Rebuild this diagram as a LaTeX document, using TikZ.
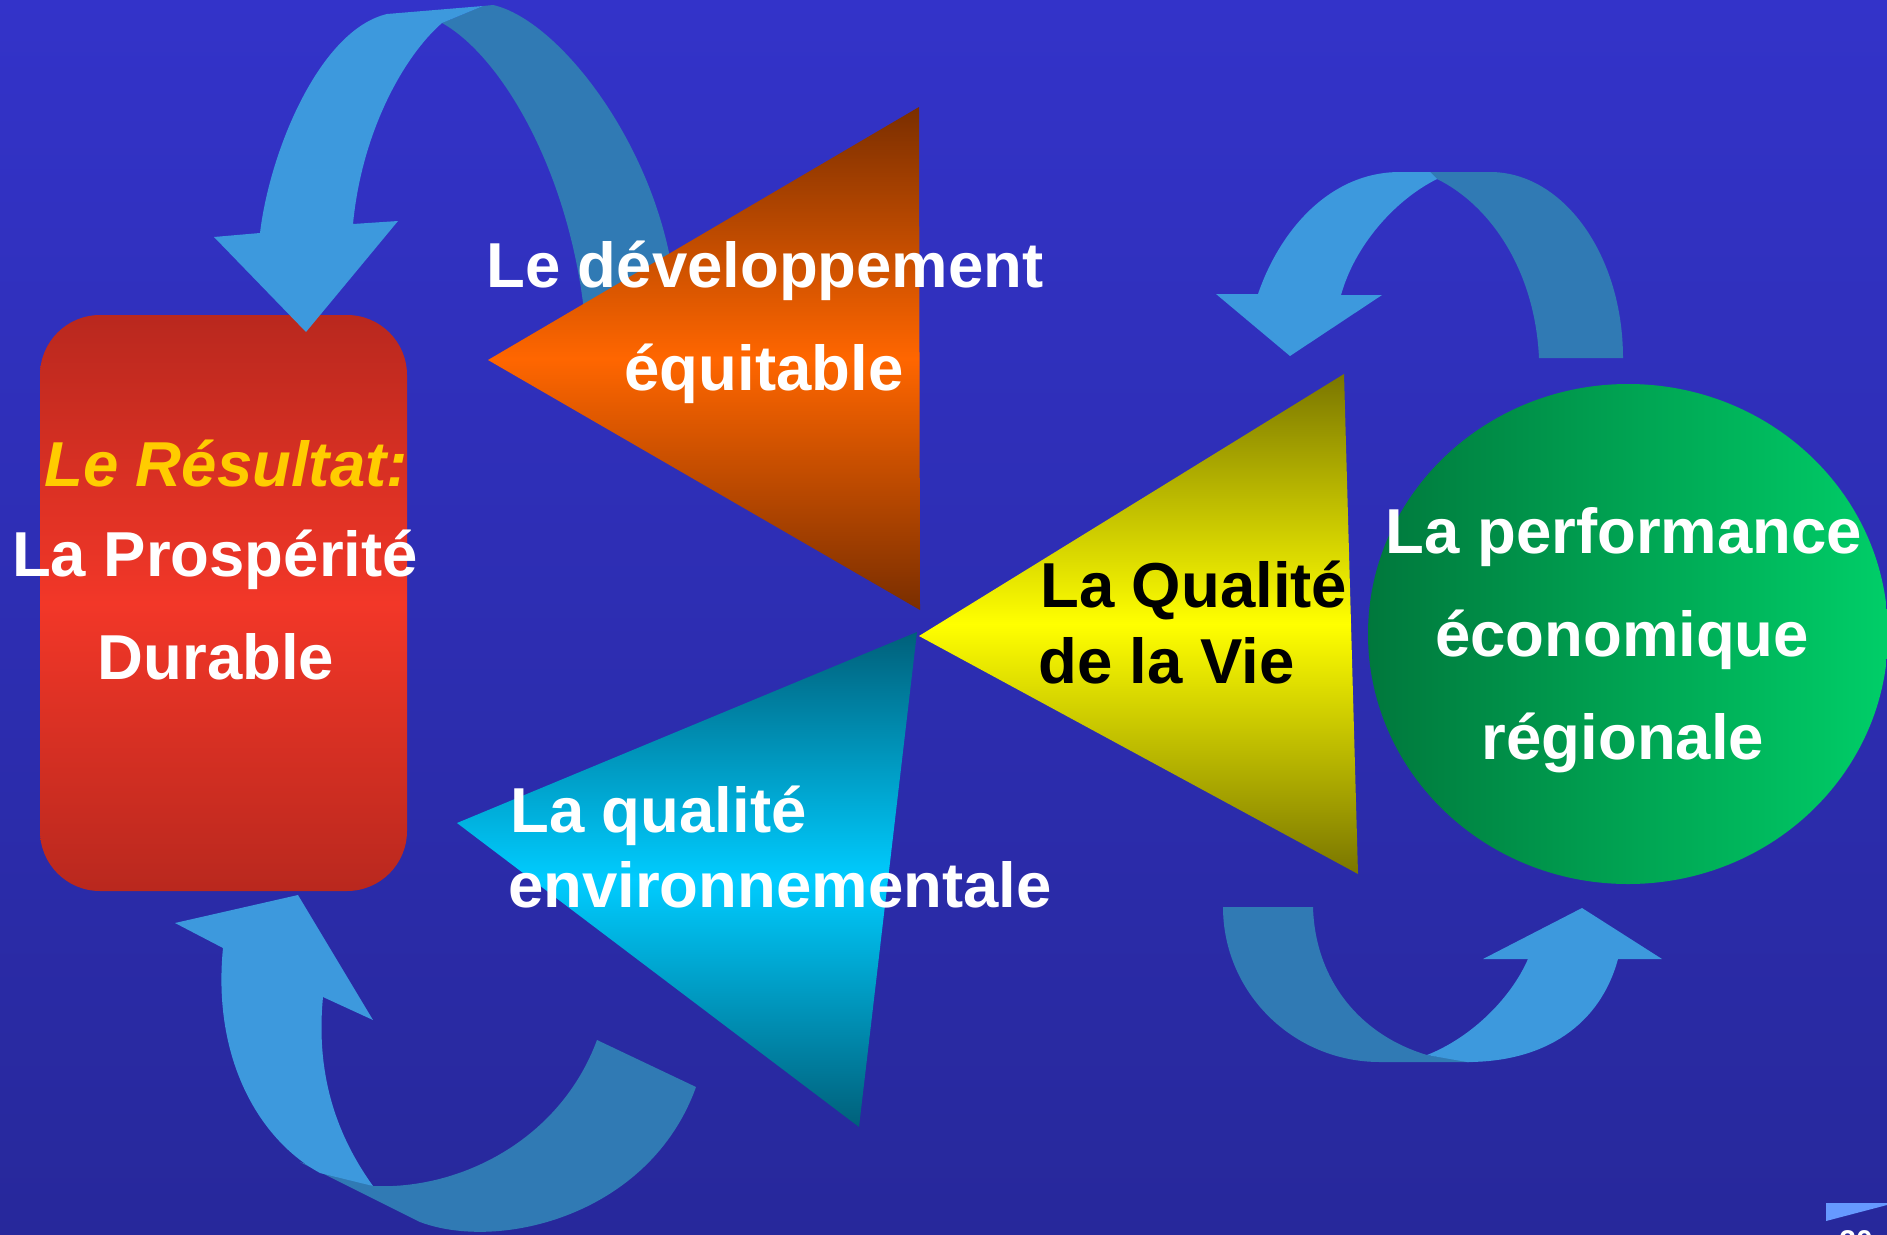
\documentclass[tikz,border=0pt]{standalone}
\usepackage{fontspec}
\setmainfont{Liberation Sans}
\definecolor{bgtop}{RGB}{51,51,201}
\definecolor{bgbot}{RGB}{39,40,155}
\definecolor{arrlightc}{RGB}{61,153,221}
\definecolor{arrdarkc}{RGB}{48,122,180}
\definecolor{redend}{RGB}{185,40,30}
\definecolor{redmid}{RGB}{242,55,40}
\definecolor{orend}{RGB}{122,46,0}
\definecolor{ormid}{RGB}{255,102,0}
\definecolor{cyend}{RGB}{0,96,122}
\definecolor{cymid}{RGB}{0,204,255}
\definecolor{yeend}{RGB}{122,118,0}
\definecolor{yemid}{RGB}{255,255,0}
\definecolor{grleft}{RGB}{0,120,60}
\definecolor{grright}{RGB}{0,206,104}
\definecolor{resyellow}{RGB}{255,204,0}
\definecolor{cornerblue}{RGB}{102,153,255}
\begin{document}
\begin{tikzpicture}[x=1pt,y=-1pt,
  lbl/.style={font=\bfseries\fontsize{63.5}{76}\selectfont, text=white, inner sep=0pt},
  arrlight/.style={fill=arrlightc},
  arrdark/.style={fill=arrdarkc},
  tri/.style={draw=none}]
\useasboundingbox (0,0) rectangle (1887,1234);
% background
\shade[top color=bgtop, bottom color=bgbot] (0,0) rectangle (1887,1234);

% result box
\shade[top color=redend, bottom color=redend, middle color=redmid, rounded corners=60pt]
  (40,315) rectangle (407,891);

% ---- arrows ----
% top-left
\fill[arrdark] (483,6) -- (493,5) .. controls (560,20) and (660,150) .. (675,290) -- (682,335)
  -- (588,335) -- (585,320) .. controls (570,170) and (500,55) .. (442,23) -- cycle;
\fill[arrlight] (260,233) .. controls (270,150) and (320,30) .. (387,14)
  -- (483,6) -- (442,23)
  .. controls (405,55) and (362,130) .. (353,224)
  -- (398,221) -- (306,332) -- (214,237) -- cycle;
% top-right
\fill[arrdark] (1420,172) -- (1490,172) .. controls (1563.5,172) and (1623,255.3) .. (1623,358)
  -- (1539,358) .. controls (1535,270) and (1490,205) .. (1437,179) -- cycle;
\fill[arrlight] (1437,179) -- (1430,172) -- (1400,172)
  .. controls (1330,172) and (1280,230) .. (1258,294)
  -- (1216,294) -- (1290,356) -- (1382,295) -- (1341,295)
  .. controls (1355,245) and (1395,200) .. (1437,179) -- cycle;
% bottom-right
\fill[arrdark] (1223,907) .. controls (1223,992.6) and (1293.3,1062) .. (1380,1062)
  -- (1473,1062) -- (1427,1055)
  .. controls (1360,1035) and (1315,980) .. (1313,907) -- cycle;
\fill[arrlight] (1427,1055) .. controls (1470,1038) and (1510,1000) .. (1528,959)
  -- (1483,959) -- (1582,908) -- (1662,959) -- (1618,959)
  .. controls (1600,1025) and (1545,1062) .. (1467,1062) -- cycle;
% bottom-left
\fill[arrdark] (300,1162) -- (420,1222)
  .. controls (500,1252) and (650,1215) .. (696,1087)
  -- (597,1040)
  .. controls (560,1140) and (460,1190) .. (373,1186) -- cycle;
\fill[arrlight] (223,948) .. controls (212,1060) and (260,1140) .. (320,1173)
  -- (373,1186)
  .. controls (340,1140) and (315,1080) .. (323,997)
  -- (373,1020) -- (298,895) -- (175,923) -- cycle;

% ---- triangles ----
\shade[tri, top color=orend, bottom color=orend, middle color=ormid] (488,360) -- (919,107) -- (920,610) -- cycle;
\shade[tri, top color=cyend, bottom color=cyend, middle color=cymid] (457,823) -- (917,632) -- (859,1127) -- cycle;
\shade[tri, top color=yeend, bottom color=yeend, middle color=yemid] (919,636) -- (1344,374) -- (1358,874) -- cycle;

% ---- green ellipse ----
\shade[left color=grleft, right color=grright] (1628,634) ellipse [x radius=260pt, y radius=250pt];

% corner mark
\fill[cornerblue] (1826,1203) -- (1887,1203) -- (1887,1205) -- (1826,1221) -- cycle;

% ---- texts ----
\node[lbl, text=resyellow, font=\bfseries\itshape\fontsize{63.5}{76}\selectfont, anchor=base] (res1) at (226,486) {Le Résultat:};
\node[lbl, anchor=base] (res2) at (215,576) {La Prospérité};
\node[lbl, anchor=base] (res3) at (216,679) {Durable};

\node[lbl, anchor=base west] (dev1) at (486,287) {Le développement};
\node[lbl, anchor=base] (dev2) at (764,390) {équitable};

\node[lbl, anchor=base west] (env1) at (510,832) {La qualité};
\node[lbl, anchor=base west] (env2) at (508,907) {environnementale};

\node[lbl, text=black, anchor=base west] (qv1) at (1040,607) {La Qualité};
\node[lbl, text=black, anchor=base west] (qv2) at (1038,683) {de la Vie};

\node[lbl, anchor=base] (eco1) at (1624,553) {La performance};
\node[lbl, anchor=base] (eco2) at (1622,656) {économique};
\node[lbl, anchor=base] (eco3) at (1623,759) {régionale};

\node[font=\bfseries\fontsize{30}{36}\selectfont, text=white, inner sep=0pt, anchor=north] (pg) at (1856,1230) {20};
\end{tikzpicture}
\end{document}
